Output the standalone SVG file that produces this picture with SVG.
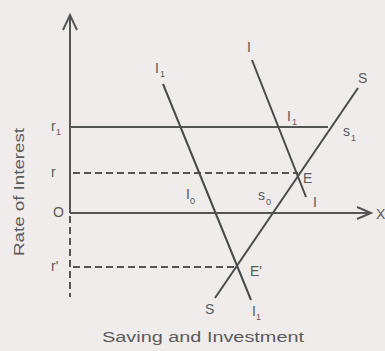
<svg xmlns="http://www.w3.org/2000/svg" width="385" height="351" viewBox="0 0 385 351">
<defs>
<style>
.ln{stroke:#4a4a4a;stroke-width:2;fill:none}
.ax{stroke:#555;stroke-width:2;fill:none}
.dash{stroke:#555;stroke-width:2;fill:none;stroke-dasharray:7,4}
.t{font-family:"Liberation Sans",Arial,sans-serif;font-size:14px;fill:#5a5a5a}
.s{font-family:"Liberation Sans",Arial,sans-serif;font-size:9px;fill:#5a5a5a}
</style>
</defs>
<rect width="385" height="351" fill="#f0ecec"/>
<g id="axes">
<line class="ax" x1="70" y1="16" x2="70" y2="213"/>
<polyline class="ax" points="63,30 70,15 77,30"/>
<line class="ax" x1="70" y1="213" x2="370" y2="213"/>
<polyline class="ax" points="357,207 371,213 357,219"/>
<line class="dash" x1="70" y1="216" x2="70" y2="297"/>
</g>
<g id="connectors">
<line class="ax" x1="70" y1="127" x2="328" y2="127"/>
<line class="dash" x1="73" y1="173" x2="298" y2="173"/>
<line class="dash" x1="73" y1="267" x2="238" y2="267"/>
<line class="ln" x1="358" y1="88" x2="215" y2="298"/>
<line class="ln" x1="252" y1="60" x2="306" y2="197"/>
<line class="ln" x1="163" y1="84" x2="251" y2="300"/>
</g>
<g id="labels">
<text class="t" x="155" y="73">I</text><text class="s" x="160" y="77">1</text>
<text class="t" x="247" y="52">I</text>
<text class="t" x="358" y="83">S</text>
<text class="t" x="51" y="131">r</text><text class="s" x="56" y="135">1</text>
<text class="t" x="51" y="177">r</text>
<text class="t" x="53" y="217">O</text>
<text class="t" x="51" y="271">r'</text>
<text class="t" x="287" y="121">I</text><text class="s" x="292" y="125">1</text>
<text class="t" x="343" y="136">s</text><text class="s" x="351" y="141">1</text>
<text class="t" x="303" y="183">E</text>
<text class="t" x="186" y="199">I</text><text class="s" x="190" y="204">0</text>
<text class="t" x="258" y="200">s</text><text class="s" x="266" y="205">0</text>
<text class="t" x="313" y="207">I</text>
<text class="t" x="376" y="219">X</text>
<text class="t" x="250" y="276">E'</text>
<text class="t" x="205" y="314">S</text>
<text class="t" x="252" y="316">I</text><text class="s" x="256" y="320">1</text>
<text class="t" x="102" y="342" textLength="202" lengthAdjust="spacingAndGlyphs">Saving and Investment</text>
<text class="t" transform="translate(24,256) rotate(-90)" textLength="128" lengthAdjust="spacingAndGlyphs">Rate of Interest</text>
</g>
</svg>
